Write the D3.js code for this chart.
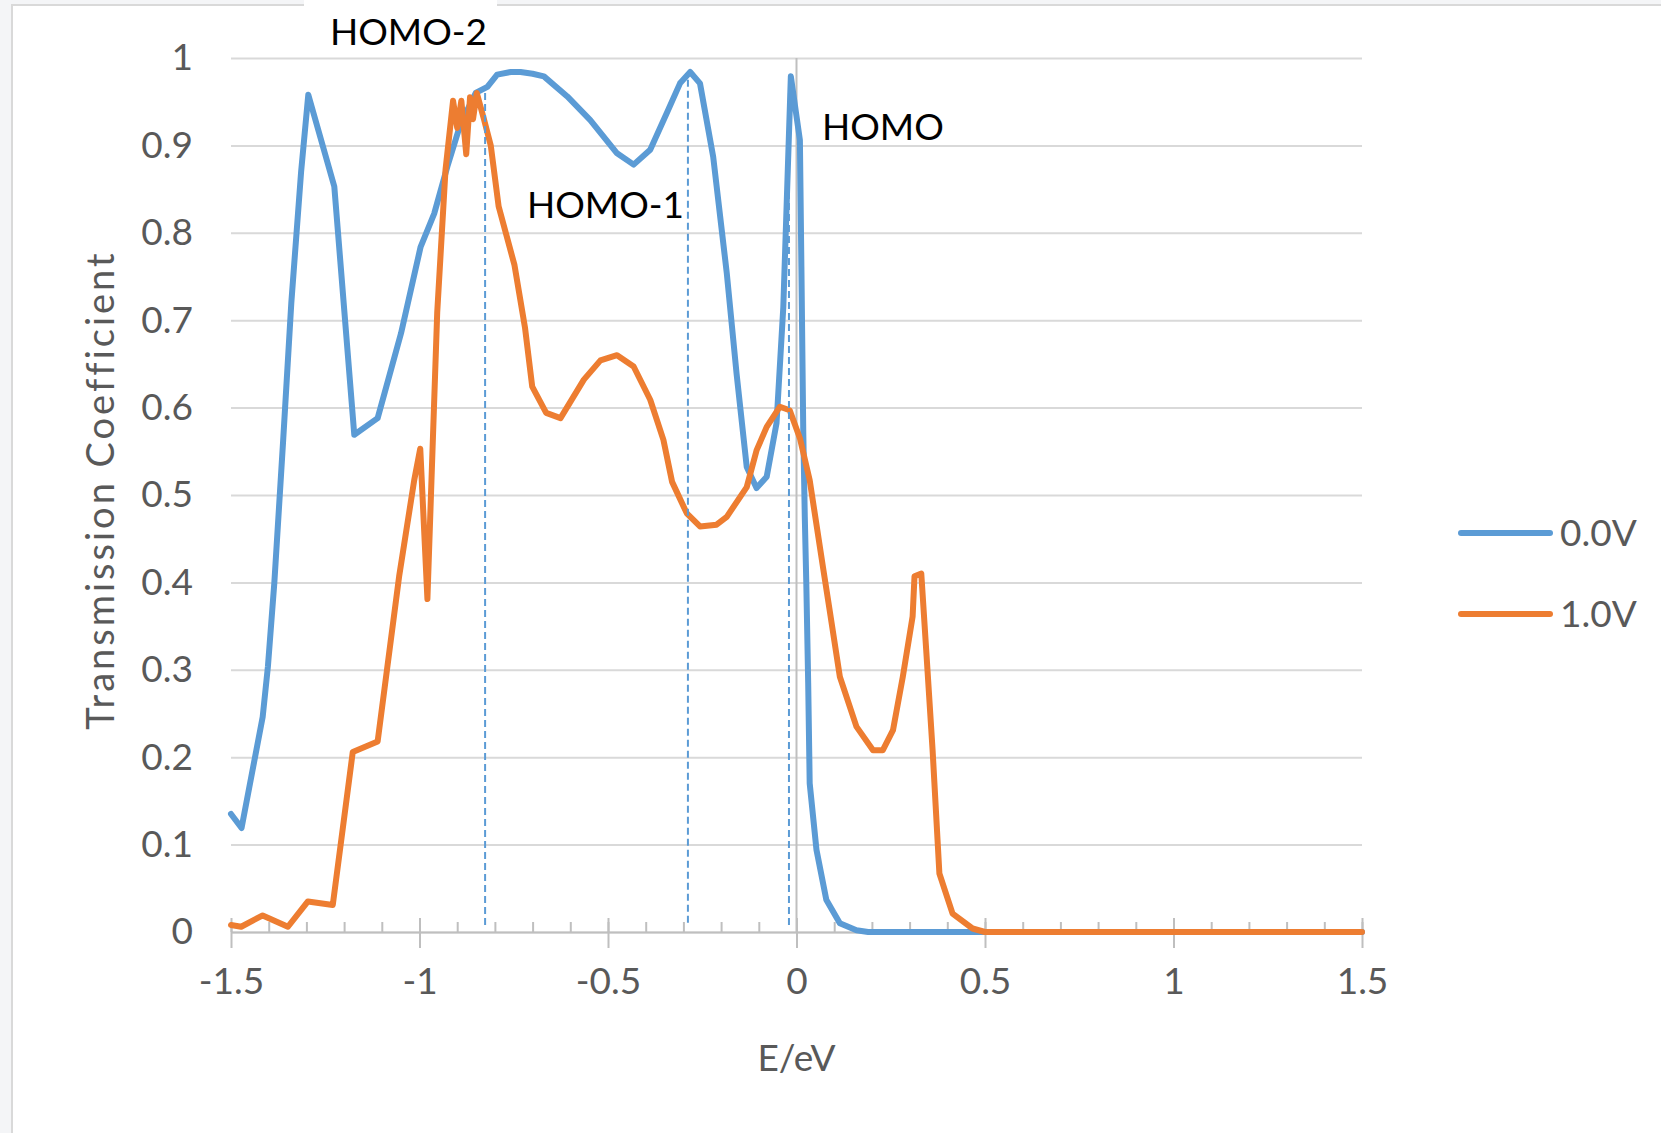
<!DOCTYPE html>
<html lang="en">
<head>
<meta charset="UTF-8" />
<script src="https://d3js.org/d3.v7.min.js"></script>
<style>
  body { margin: 0; background: #f4f5f7; }
  svg text { font-family: Lato, "Open Sans", sans-serif; }
</style>
</head>
<body>
<svg width="1661" height="1133"></svg>
<script>
// ---- data ----
var seriesNames = ['0.0V', '1.0V'];
var seriesColors = ['#5b9bd5', '#ed7d31'];

// 0.0V
var eBlue = [-1.5, -1.472, -1.416, -1.402, -1.385, -1.362, -1.340, -1.314, -1.295,
  -1.226, -1.173, -1.111, -1.049, -0.997, -0.961, -0.926, -0.891, -0.851, -0.820,
  -0.794, -0.758, -0.732, -0.700, -0.670, -0.608, -0.547, -0.476, -0.432, -0.388,
  -0.344, -0.309, -0.282, -0.256, -0.221, -0.185, -0.159, -0.132, -0.106, -0.079,
  -0.053, -0.035, -0.015, 0.009, 0.013, 0.018, 0.022, 0.026, 0.031, 0.035,
  0.053, 0.079, 0.115, 0.159, 0.19, 0.5, 1.0, 1.5];
var tBlue = [0.135, 0.119, 0.246, 0.304, 0.400, 0.560, 0.720, 0.870, 0.958,
  0.853, 0.569, 0.588, 0.685, 0.784, 0.822, 0.876, 0.925, 0.960, 0.967,
  0.981, 0.984, 0.984, 0.982, 0.979, 0.956, 0.929, 0.891, 0.878, 0.895,
  0.937, 0.971, 0.984, 0.971, 0.887, 0.754, 0.639, 0.532, 0.508, 0.521,
  0.582, 0.715, 0.979, 0.906, 0.761, 0.571, 0.475, 0.399, 0.285, 0.170,
  0.094, 0.037, 0.010, 0.002, 0, 0, 0, 0];

// 1.0V
var eOrange = [-1.5, -1.473, -1.416, -1.349, -1.296, -1.230, -1.177, -1.111, -1.054, -1.014,
  -0.998, -0.979, -0.953, -0.931, -0.911, -0.900, -0.889, -0.876, -0.866, -0.858,
  -0.848, -0.829, -0.811, -0.790, -0.748, -0.720, -0.701, -0.664, -0.626, -0.564,
  -0.520, -0.476, -0.432, -0.388, -0.353, -0.330, -0.291, -0.256, -0.212, -0.185,
  -0.132, -0.106, -0.079, -0.044, -0.018, 0.009, 0.035, 0.070, 0.088, 0.115,
  0.159, 0.203, 0.229, 0.256, 0.282, 0.308, 0.313, 0.331, 0.344, 0.361,
  0.379, 0.414, 0.467, 0.5, 1.0, 1.5];
var tOrange = [0.008, 0.006, 0.019, 0.006, 0.035, 0.031, 0.206, 0.218, 0.407, 0.517,
  0.553, 0.381, 0.709, 0.872, 0.951, 0.920, 0.951, 0.890, 0.955, 0.930,
  0.960, 0.930, 0.900, 0.830, 0.763, 0.691, 0.624, 0.594, 0.588, 0.632,
  0.654, 0.660, 0.647, 0.609, 0.563, 0.515, 0.479, 0.464, 0.466, 0.475,
  0.509, 0.551, 0.578, 0.601, 0.597, 0.565, 0.517, 0.418, 0.368, 0.292,
  0.235, 0.208, 0.208, 0.231, 0.292, 0.361, 0.407, 0.410, 0.323, 0.208,
  0.067, 0.021, 0.004, 0, 0, 0];

// orbital markers: label, energy, top of dashed line
var markNames = ['HOMO-2', 'HOMO-1', 'HOMO'];
var markE = [-0.826, -0.288, -0.02];
var markTop = [0.96, 0.975, 0.96];

var xTicks = [-1.5, -1, -0.5, 0, 0.5, 1, 1.5];
var yTicks = [0, 0.1, 0.2, 0.3, 0.4, 0.5, 0.6, 0.7, 0.8, 0.9, 1];

// ---- layout ----
var plotL = 231, plotR = 1362, plotT = 58, plotB = 932;
var svg = d3.select('svg');

// chart area + frame
svg.append('rect').attr('x', 12).attr('y', 5).attr('width', 1700).attr('height', 1200)
  .attr('fill', '#fff').attr('stroke', '#d9d9d9').attr('stroke-width', 2);

var x = d3.scaleLinear().domain([-1.5, 1.5]).range([plotL, plotR]);
var y = d3.scaleLinear().domain([0, 1]).range([plotB, plotT]);

// gridlines + y labels
var yAxis = svg.append('g').attr('transform', 'translate(' + plotL + ',0)')
  .call(d3.axisLeft(y).tickValues(yTicks).tickSize(-(plotR - plotL)).tickPadding(38)
    .tickFormat(function(d) { return String(+d.toFixed(1)); }));
yAxis.select('.domain').remove();
yAxis.selectAll('line').attr('stroke', '#d9d9d9').attr('stroke-width', 2);
yAxis.selectAll('text').attr('fill', '#595959').style('font-size', '37px');

// vertical axis line at E = 0
svg.append('line').attr('x1', x(0)).attr('x2', x(0)).attr('y1', y(0)).attr('y2', y(1))
  .attr('stroke', '#bfbfbf').attr('stroke-width', 2);

// minor ticks (inside)
var minor = svg.append('g').attr('transform', 'translate(0,' + plotB + ')')
  .call(d3.axisBottom(x).ticks(30).tickSize(-10).tickSizeOuter(0).tickFormat(''));
minor.select('.domain').remove();
minor.selectAll('line').attr('stroke', '#bfbfbf').attr('stroke-width', 2);

// major ticks (cross) + labels
var xAxis = svg.append('g').attr('transform', 'translate(0,' + plotB + ')')
  .call(d3.axisBottom(x).tickValues(xTicks).tickSize(16).tickSizeOuter(0).tickPadding(20)
    .tickFormat(function(d) { return String(d); }));
xAxis.select('.domain').attr('stroke', '#bfbfbf').attr('stroke-width', 2);
xAxis.selectAll('line').attr('y1', -14).attr('stroke', '#bfbfbf').attr('stroke-width', 2);
xAxis.selectAll('text').attr('fill', '#595959').style('font-size', '37px');

// series
var line = d3.line().x(function(d) { return x(d[0]); }).y(function(d) { return y(d[1]); });
var curves = [d3.zip(eBlue, tBlue), d3.zip(eOrange, tOrange)];
svg.selectAll('path.series').data(curves).enter().append('path')
  .attr('class', 'series')
  .attr('d', line)
  .attr('fill', 'none')
  .attr('stroke', function(d, i) { return seriesColors[i]; })
  .attr('stroke-width', 6)
  .attr('stroke-linejoin', 'round')
  .attr('stroke-linecap', 'round');

// dashed orbital lines
svg.selectAll('line.mark').data(markE).enter().append('line')
  .attr('class', 'mark')
  .attr('x1', function(d) { return x(d); })
  .attr('x2', function(d) { return x(d); })
  .attr('y1', function(d, i) { return y(markTop[i]); })
  .attr('y2', y(0.006))
  .attr('stroke', '#5b9bd5')
  .attr('stroke-width', 2)
  .attr('stroke-dasharray', '7,4');

// HOMO labels (text boxes); HOMO-2 box sits over the frame
svg.append('rect').attr('x', 304).attr('y', 0).attr('width', 193).attr('height', 52).attr('fill', '#fff');
var labelPos = [[330, 45], [527, 218], [822, 140]];
svg.selectAll('text.mark').data(markNames).enter().append('text')
  .attr('class', 'mark')
  .attr('x', function(d, i) { return labelPos[i][0]; })
  .attr('y', function(d, i) { return labelPos[i][1]; })
  .attr('fill', '#000')
  .style('font-size', '37px')
  .text(function(d) { return d; });

// axis titles
svg.append('text').attr('x', x(0)).attr('y', 1071).attr('text-anchor', 'middle')
  .attr('fill', '#595959').style('font-size', '37px').text('E/eV');
svg.append('text').attr('transform', 'translate(114,490) rotate(-90)').attr('text-anchor', 'middle')
  .attr('fill', '#595959').style('font-size', '38px').style('letter-spacing', '3px')
  .text('Transmission Coefficient');

// legend
var legend = svg.selectAll('g.legend').data(seriesNames).enter().append('g')
  .attr('class', 'legend')
  .attr('transform', function(d, i) { return 'translate(1461,' + (533 + i * 81) + ')'; });
legend.append('line').attr('x1', 0).attr('x2', 89)
  .attr('stroke', function(d, i) { return seriesColors[i]; })
  .attr('stroke-width', 6).attr('stroke-linecap', 'round');
legend.append('text').attr('x', 99).attr('dy', '0.36em')
  .attr('fill', '#595959').style('font-size', '37px')
  .text(function(d) { return d; });
</script>
</body>
</html>
